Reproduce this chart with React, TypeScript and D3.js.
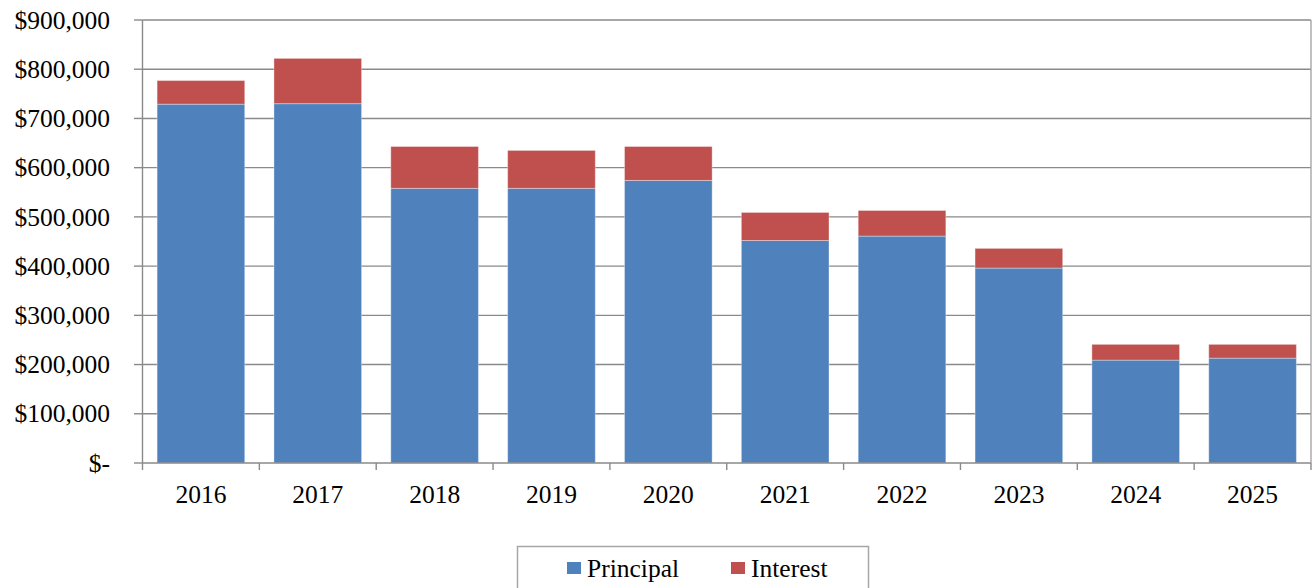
import React from "react";
import * as d3 from "d3";

const years = ["2016", "2017", "2018", "2019", "2020", "2021", "2022", "2023", "2024", "2025"];
const principal = [729000, 730000, 558000, 558000, 574000, 452000, 461000, 396000, 209000, 213000];
const interest = [48000, 92000, 85000, 77000, 69000, 57000, 52000, 40000, 32000, 28000];
const yTicks = [0, 100000, 200000, 300000, 400000, 500000, 600000, 700000, 800000, 900000];
const seriesNames = ["Principal", "Interest"];
const colors = ["#4F81BD", "#C0504D"];

const W = 1314;
const H = 588;
const left = 142.5;
const right = 1311;
const top = 20;
const bottom = 463;
const FONT = "'Liberation Serif', 'Times New Roman', serif";

export default function App() {
  const x = d3.scaleBand<string>().domain(years).range([left, right]).paddingInner(0.25).paddingOuter(0.125);
  const y = d3.scaleLinear().domain([0, 900000]).range([bottom, top]);
  const rows = years.map((yr, i) => ({ year: yr, Principal: principal[i], Interest: interest[i] }));
  const stacked = d3.stack<any>().keys(seriesNames)(rows);
  const fmt = (v: number) => (v === 0 ? "$-" : "$" + d3.format(",")(v));
  const step = x.step();
  const boundaries = d3.range(years.length + 1).map((i) => left + i * step);

  return (
    <svg width={W} height={H} style={{ position: "fixed", left: 0, top: 0, background: "#fff" }} fontFamily={FONT}>
      <rect x={0} y={0} width={W} height={H} fill="#fff" />
      {yTicks.map((t) => (
        <g key={t}>
          {t > 0 && (
            <line x1={left} x2={right} y1={y(t)} y2={y(t)} stroke="#8a8a8a" strokeWidth={1.4} />
          )}
          <line x1={134} x2={left} y1={y(t)} y2={y(t)} stroke="#8a8a8a" strokeWidth={1.4} />
          <text x={110} y={y(t)} dy="0.34em" textAnchor="end" fontSize={25.5} fill="#000">
            {fmt(t)}
          </text>
        </g>
      ))}
      <line x1={right} x2={right} y1={top} y2={bottom} stroke="#a6a6a6" strokeWidth={1.4} />
      {stacked.map((s, si) => (
        <g key={s.key}>
          {s.map((d, i) => (
            <rect
              key={i}
              x={x(years[i])}
              width={x.bandwidth()}
              y={y(d[1])}
              height={y(d[0]) - y(d[1])}
              fill={colors[si]}
              stroke="rgba(255,255,255,0.35)"
              strokeWidth={1}
            />
          ))}
        </g>
      ))}
      <line x1={left} x2={left} y1={top} y2={bottom} stroke="#8a8a8a" strokeWidth={1.4} />
      <line x1={left} x2={right} y1={bottom} y2={bottom} stroke="#8a8a8a" strokeWidth={1.4} />
      {boundaries.map((b, i) => (
        <line key={i} x1={b} x2={b} y1={bottom} y2={470} stroke="#8a8a8a" strokeWidth={1.4} />
      ))}
      {years.map((yr) => (
        <text key={yr} x={(x(yr) as number) + x.bandwidth() / 2} y={503} textAnchor="middle" fontSize={25.5} fill="#000">
          {yr}
        </text>
      ))}
      <rect x={517.5} y={546.5} width={351} height={60} fill="#fff" stroke="#a6a6a6" strokeWidth={1.5} />
      {seriesNames.map((n, i) => {
        const lx = [567, 731][i];
        return (
          <g key={n}>
            <rect x={lx} y={562} width={14} height={12} fill={colors[i]} />
            <text x={lx + 20} y={577} fontSize={25.5} fill="#000">
              {n}
            </text>
          </g>
        );
      })}
    </svg>
  );
}
